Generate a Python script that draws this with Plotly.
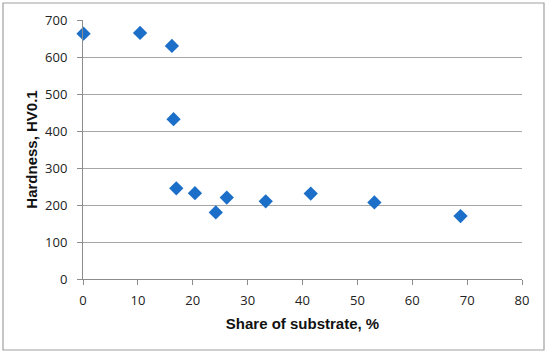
import plotly.graph_objects as go

share_substrate = [0.1, 10.4, 16.2, 16.5, 17.0, 20.4, 24.2, 26.2, 33.3, 41.5, 53.1, 68.8]
hardness = [663, 665, 630, 432, 245, 232, 180, 220, 210, 231, 207, 170]

x_ticks = [0, 10, 20, 30, 40, 50, 60, 70, 80]
y_ticks = [0, 100, 200, 300, 400, 500, 600, 700]

W, H = 550, 353
L, R, T, B = 83, 28, 20, 74
pw, ph = W - L - R, H - T - B

fig = go.Figure()
fig.add_trace(go.Scatter(
    x=share_substrate, y=hardness, mode="markers",
    marker=dict(symbol="diamond", size=11, color="#1C6FC8", line=dict(width=0)),
    cliponaxis=False, hoverinfo="skip",
))

tick_font = dict(family="Open Sans, Liberation Sans, sans-serif", size=13, color="#222")
title_font = dict(family="Liberation Sans, Arial, sans-serif", size=15, color="#111")

fig.update_layout(
    width=W, height=H,
    margin=dict(l=L, r=R, t=T, b=B, autoexpand=False),
    paper_bgcolor="white", plot_bgcolor="white",
    showlegend=False,
    xaxis=dict(
        range=[0, 80], tickvals=x_ticks, ticktext=[str(v) for v in x_ticks],
        showgrid=False, zeroline=False,
        showline=True, linecolor="#8c8c8c", linewidth=1,
        ticks="outside", ticklen=5, tickcolor="#8c8c8c",
        tickfont=tick_font, automargin=False, ticklabelstandoff=4,
        title=dict(text="<b>Share of substrate, %</b>", font=title_font, standoff=10),
    ),
    yaxis=dict(
        range=[0, 700], tickvals=y_ticks, ticktext=[str(v) for v in y_ticks],
        showgrid=True, gridcolor="#a6a6a6", gridwidth=1, zeroline=False,
        showline=True, linecolor="#8c8c8c", linewidth=1,
        ticks="outside", ticklen=5, tickcolor="#8c8c8c",
        tickfont=tick_font, automargin=False, ticklabelstandoff=7,
        title=dict(text="<b>Hardness, HV0.1</b>", font=title_font, standoff=3),
    ),
)

# outer chart border (pixel coords converted to paper coords)
fig.add_shape(
    type="rect", xref="paper", yref="paper",
    x0=(3 - L) / pw, x1=(544 - L) / pw,
    y0=((H - B) - 350) / ph, y1=((H - B) - 3) / ph,
    line=dict(color="#a0a0a0", width=1.2), fillcolor="rgba(0,0,0,0)", layer="below",
)

fig.write_html("out.html", config={"displayModeBar": False},
               post_script="document.body.style.margin='0';")
